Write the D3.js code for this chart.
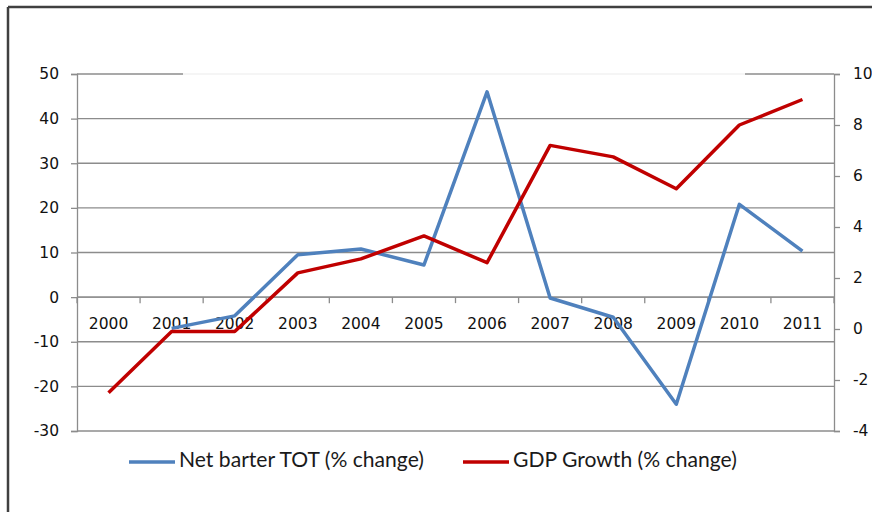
<!DOCTYPE html>
<html>
<head>
<meta charset="utf-8">
<script src="https://cdn.jsdelivr.net/npm/d3@7"></script>
<style>
  html, body { margin: 0; padding: 0; background: #fff; }
  svg { display: block; }
</style>
</head>
<body>
<svg id="chart" width="872" height="512"></svg>
<script>
// ---- data ----
const years = ["2000","2001","2002","2003","2004","2005","2006","2007","2008","2009","2010","2011"];
const totChange = [null, -7.0, -4.2, 9.5, 10.8, 7.2, 46.0, -0.2, -4.5, -24.0, 20.8, 10.3];
const gdpGrowth = [-2.5, -0.1, -0.1, 2.2, 2.75, 3.65, 2.6, 7.2, 6.75, 5.5, 8.0, 9.0];
const leftTicks = [-30, -20, -10, 0, 10, 20, 30, 40, 50];
const rightTicks = [-4, -2, 0, 2, 4, 6, 8, 10];
const seriesNames = ["Net barter TOT (% change)", "GDP Growth (% change)"];

// ---- layout ----
const svg = d3.select("#chart");
const W = 872, H = 512;
const plot = { left: 77, right: 834, top: 74, bottom: 431 };
const blue = "#4F81BD", red = "#C00000", grid = "#8c8c8c";
const tickFont = "'DejaVu Sans', Verdana, sans-serif";
const tickSize = 15.5;
const fmt = d => String(d); // plain hyphen minus like the reference

svg.append("rect").attr("width", W).attr("height", H).attr("fill", "#fff");

// outer frame (top and left visible)
svg.append("line").attr("x1", 8).attr("x2", W).attr("y1", 7).attr("y2", 7)
  .attr("stroke", "#404040").attr("stroke-width", 2.5);
svg.append("line").attr("x1", 8).attr("x2", 8).attr("y1", 7).attr("y2", H)
  .attr("stroke", "#404040").attr("stroke-width", 2.5);

const x = d3.scaleBand().domain(years).range([plot.left, plot.right]);
const y1 = d3.scaleLinear().domain([-30, 50]).range([plot.bottom, plot.top]);
const y2 = d3.scaleLinear().domain([-4, 10]).range([plot.bottom, plot.top]);

// gridlines (left axis)
svg.append("g").selectAll("line").data(leftTicks).join("line")
  .attr("x1", plot.left).attr("x2", plot.right)
  .attr("y1", d => y1(d)).attr("y2", d => y1(d))
  .attr("stroke", grid).attr("stroke-width", 1.3);

// faint section of the top gridline as in reference
svg.append("rect").attr("x", 183).attr("y", y1(50) - 2).attr("width", 745 - 183).attr("height", 4)
  .attr("fill", "#fff").attr("opacity", 0.88);

// left axis
const leftAxis = d3.axisLeft(y1).tickValues(leftTicks).tickFormat(fmt).tickSize(6).tickPadding(12);
const gL = svg.append("g").attr("transform", `translate(${plot.left},0)`).call(leftAxis);
gL.attr("font-family", tickFont).attr("font-size", tickSize);
gL.select(".domain").attr("stroke", grid).attr("stroke-width", 1.3);
gL.selectAll(".tick line").attr("stroke", grid).attr("stroke-width", 1.3);
gL.selectAll(".tick text").attr("fill", "#111");

// right axis
const rightAxis = d3.axisRight(y2).tickValues(rightTicks).tickFormat(fmt).tickSize(6).tickPadding(13);
const gR = svg.append("g").attr("transform", `translate(${plot.right},0)`).call(rightAxis);
gR.attr("font-family", tickFont).attr("font-size", tickSize);
gR.select(".domain").attr("stroke", grid).attr("stroke-width", 1.3);
gR.selectAll(".tick line").attr("stroke", grid).attr("stroke-width", 1.3);
gR.selectAll(".tick text").attr("fill", "#111");

// category axis at y = 0
const gX = svg.append("g").attr("transform", `translate(0,${y1(0)})`);
gX.append("line").attr("x1", plot.left).attr("x2", plot.right)
  .attr("stroke", grid).attr("stroke-width", 1.3);
const boundaries = years.map(d => x(d)).concat([x(years[years.length - 1]) + x.bandwidth()]);
gX.selectAll("line.tk").data(boundaries).join("line").attr("class", "tk")
  .attr("x1", d => d).attr("x2", d => d).attr("y1", 0).attr("y2", 6)
  .attr("stroke", grid).attr("stroke-width", 1.3);
gX.selectAll("text").data(years).join("text")
  .attr("x", d => x(d) + x.bandwidth() / 2).attr("y", 27)
  .attr("text-anchor", "middle").attr("dominant-baseline", "middle")
  .attr("font-family", tickFont).attr("font-size", tickSize).attr("fill", "#111")
  .text(d => d);

// lines
const cx = d => x(d) + x.bandwidth() / 2;
const totLine = d3.line().defined(d => d.v !== null).x(d => cx(d.year)).y(d => y1(d.v));
const gdpLine = d3.line().x(d => cx(d.year)).y(d => y2(d.v));
svg.append("path").datum(years.map((yr, i) => ({ year: yr, v: totChange[i] })))
  .attr("d", totLine).attr("fill", "none").attr("stroke", blue)
  .attr("stroke-width", 3.5).attr("stroke-linejoin", "round");
svg.append("path").datum(years.map((yr, i) => ({ year: yr, v: gdpGrowth[i] })))
  .attr("d", gdpLine).attr("fill", "none").attr("stroke", red)
  .attr("stroke-width", 3.5).attr("stroke-linejoin", "round");

// legend
const legendFont = "Lato, 'Open Sans', sans-serif";
const legend = [
  { name: seriesNames[0], color: blue, x0: 129, targetW: 245 },
  { name: seriesNames[1], color: red, x0: 463, targetW: 224 }
];
const legY = 462;
legend.forEach(l => {
  svg.append("line").attr("x1", l.x0).attr("x2", l.x0 + 46).attr("y1", legY).attr("y2", legY)
    .attr("stroke", l.color).attr("stroke-width", 3.5);
  const t = svg.append("text").attr("x", l.x0 + 50).attr("y", legY)
    .attr("dominant-baseline", "middle").attr("font-family", legendFont)
    .attr("font-size", 20).attr("fill", "#1a1a1a").text(l.name);
  const w = t.node().getComputedTextLength();
  t.attr("font-size", 20 * l.targetW / w);
});
</script>
</body>
</html>
